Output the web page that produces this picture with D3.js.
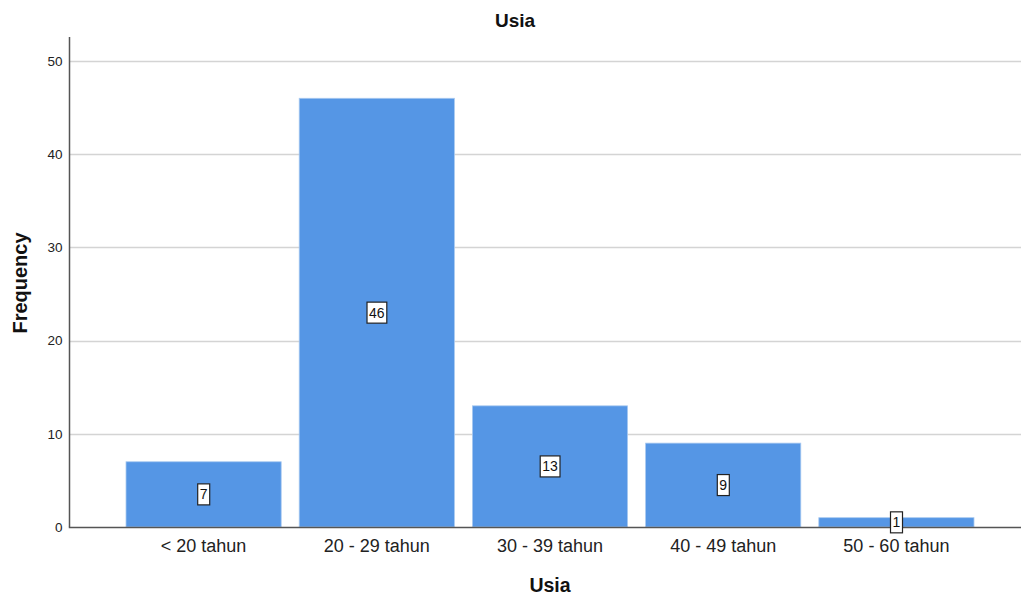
<!DOCTYPE html>
<html><head><meta charset="utf-8">
<script src="https://cdn.jsdelivr.net/npm/d3@7"></script>
<style>body{margin:0;background:#fff}svg{display:block;font-family:Arial,"Liberation Sans",sans-serif}</style>
</head><body><svg id="c" width="1021" height="597"></svg>
<script>
const categories = ["< 20 tahun","20 - 29 tahun","30 - 39 tahun","40 - 49 tahun","50 - 60 tahun"];
const frequencies = [7,46,13,9,1];
const yTicks = [0,10,20,30,40,50];

(function(){
const svg = d3.select("#c");
const axisX = 69.5, rightX = 1021, topY = 37, zeroY = 527;
const y = d3.scaleLinear().domain([0,50]).range([zeroY,61]);
const x = d3.scaleBand().domain(categories).range([117,983]).paddingInner(0.104).paddingOuter(0.052);

svg.append("g").selectAll("line").data(yTicks.filter(d=>d>0)).join("line")
  .attr("x1",axisX).attr("x2",rightX).attr("y1",d=>Math.round(y(d))+0.5).attr("y2",d=>Math.round(y(d))+0.5)
  .attr("stroke","#d4d4d4").attr("stroke-width",1.5);

svg.append("g").selectAll("rect").data(frequencies).join("rect")
  .attr("x",(d,i)=>x(categories[i])).attr("width",x.bandwidth())
  .attr("y",d=>y(d)).attr("height",d=>zeroY-y(d))
  .attr("fill","#5596e5").attr("stroke","#a9c9f0").attr("stroke-width",0.8);

const ya = d3.axisLeft(y).tickValues(yTicks).tickSize(0).tickPadding(7);
const gy = svg.append("g").attr("transform",`translate(${axisX},0)`).call(ya);
gy.select(".domain").remove();
gy.selectAll("text").attr("font-size",13.5).attr("fill","#222").attr("font-family","Arial,'Liberation Sans',sans-serif");
svg.append("line").attr("x1",axisX).attr("x2",axisX).attr("y1",topY).attr("y2",zeroY).attr("stroke","#555").attr("stroke-width",1.5);

const xa = d3.axisBottom(x).tickSize(0).tickPadding(12);
const gx = svg.append("g").attr("transform",`translate(0,${zeroY})`).call(xa);
gx.select(".domain").remove();
gx.selectAll("text").attr("font-size",18).attr("fill","#222").attr("font-family","Arial,'Liberation Sans',sans-serif");
svg.append("line").attr("x1",axisX-0.75).attr("x2",rightX).attr("y1",zeroY+0.5).attr("y2",zeroY+0.5).attr("stroke","#555").attr("stroke-width",1.5);

const lab = svg.append("g").selectAll("g").data(frequencies).join("g")
  .attr("transform",(d,i)=>`translate(${x(categories[i])+x.bandwidth()/2},${(y(d)+zeroY)/2})`);
lab.append("text").text(d=>d).attr("text-anchor","middle").attr("dy","0.36em")
  .attr("font-size",14).attr("fill","#111").attr("font-family","Arial,'Liberation Sans',sans-serif");
lab.each(function(){
  const g=d3.select(this); const b=g.select("text").node().getBBox();
  g.insert("rect","text").attr("x",b.x-2).attr("y",-10.5).attr("width",b.width+4).attr("height",21)
    .attr("fill","#fff").attr("stroke","#222").attr("stroke-width",1.2);
});

svg.append("text").attr("x",515).attr("y",27).attr("text-anchor","middle").attr("font-size",19).attr("font-weight","bold").attr("fill","#111").text("Usia");
svg.append("text").attr("x",550).attr("y",592).attr("text-anchor","middle").attr("font-size",19.5).attr("font-weight","bold").attr("fill","#111").text("Usia");
svg.append("text").attr("transform","translate(27,283) rotate(-90)").attr("text-anchor","middle").attr("font-size",20).attr("font-weight","bold").attr("fill","#111").text("Frequency");
})();
</script></body></html>
